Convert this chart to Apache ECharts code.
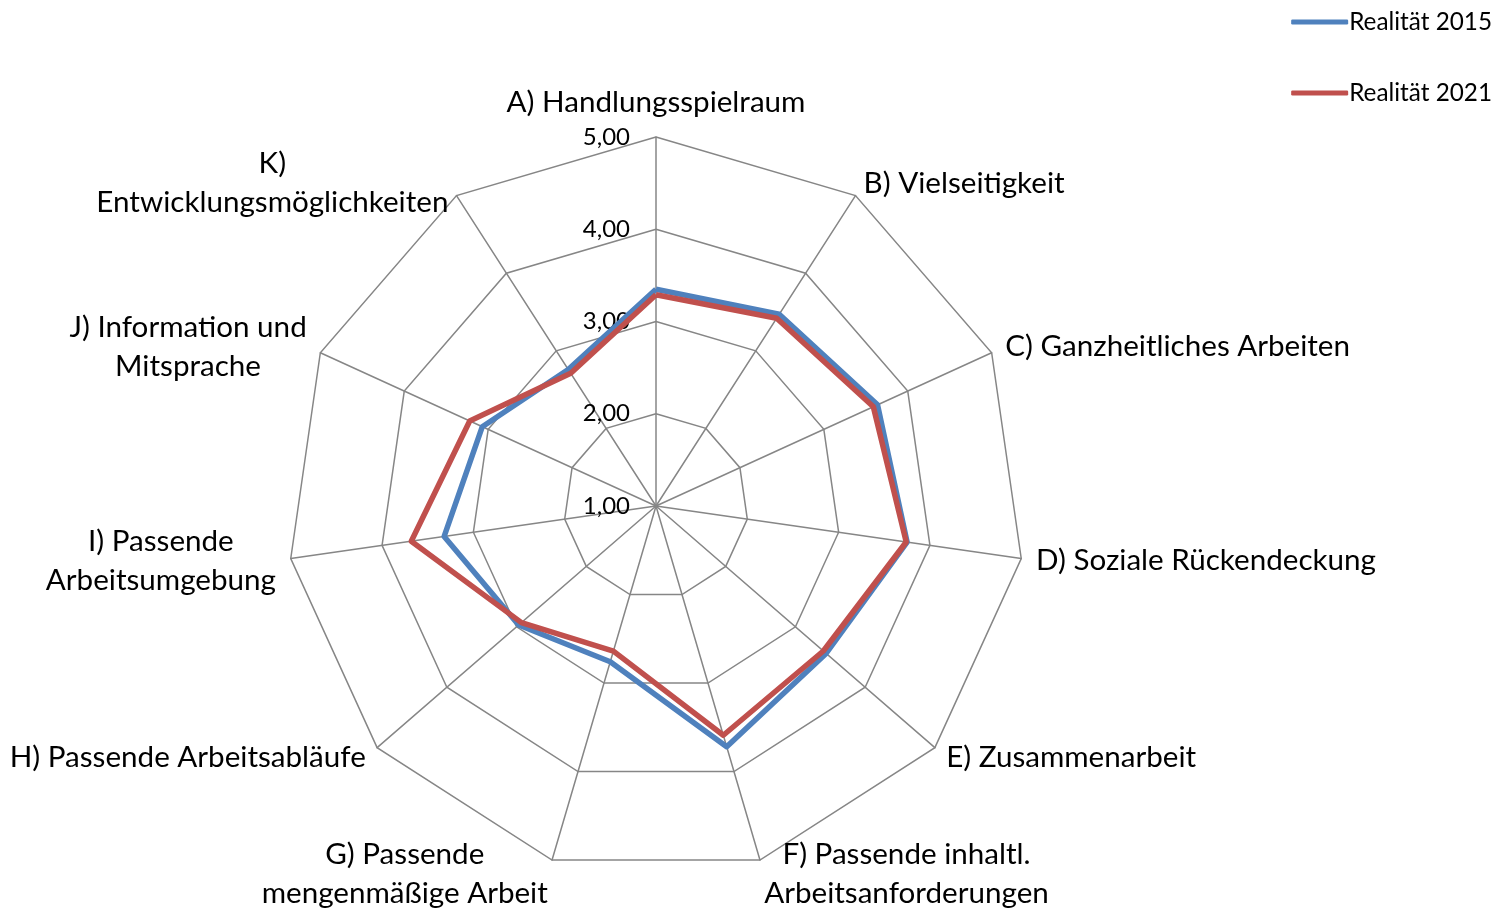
<!DOCTYPE html>
<html>
<head>
<meta charset="utf-8">
<script src="https://cdn.jsdelivr.net/npm/echarts@6/dist/echarts.min.js"></script>
<style>
html,body{margin:0;padding:0;background:#fff;}
#chart{width:1499px;height:916px;}
</style>
</head>
<body>
<div id="chart"></div>
<script>
const categories = [
  "A) Handlungsspielraum",
  "B) Vielseitigkeit",
  "C) Ganzheitliches Arbeiten",
  "D) Soziale Rückendeckung",
  "E) Zusammenarbeit",
  "F) Passende inhaltl.\nArbeitsanforderungen",
  "G) Passende\nmengenmäßige Arbeit",
  "H) Passende Arbeitsabläufe",
  "I) Passende\nArbeitsumgebung",
  "J) Information und\nMitsprache",
  "K)\nEntwicklungsmöglichkeiten"
];
const seriesNames = ["Realität 2015", "Realität 2021"];
const values2015 = [3.35, 3.47, 3.64, 3.75, 3.44, 3.72, 2.76, 2.97, 3.32, 3.07, 2.76];
const values2021 = [3.29, 3.42, 3.59, 3.74, 3.40, 3.59, 2.64, 2.93, 3.68, 3.22, 2.71];
const scaleMin = 1, scaleMax = 5, scaleSteps = 4;

// ECharts lays indicators out counter-clockwise; reorder (first stays on top) to go clockwise
function clockwise(arr) { return [arr[0]].concat(arr.slice(1).reverse()); }

const FONT = "Lato";
const chart = echarts.init(document.getElementById('chart'));
const indicator = clockwise(categories).map((c, i) => {
  const o = { name: c, min: scaleMin, max: scaleMax };
  if (i === 0) o.axisLabel = { show: true };
  return o;
});
chart.setOption({
  animation: false,
  color: ['#4F81BD', '#C0504D'],
  legend: {
    orient: 'vertical',
    right: 2,
    top: 5,
    itemWidth: 57,
    itemHeight: 5,
    itemGap: 47,
    icon: 'roundRect',
    data: seriesNames,
    textStyle: { fontFamily: FONT, fontSize: 24.3, color: '#000', padding: [0, 0, 0, -4] }
  },
  radar: {
    center: [656, 506],
    radius: 369,
    startAngle: 90,
    shape: 'polygon',
    splitNumber: scaleSteps,
    indicator: indicator,
    nameGap: 15,
    axisName: {
      color: '#000',
      fontFamily: FONT,
      fontSize: 29.6,
      lineHeight: 39,
      formatter: function (name) {
        return name.split('\n').map(s => '{c|' + s + '}').join('\n');
      },
      rich: { c: { align: 'center', fontFamily: FONT, fontSize: 29.6, lineHeight: 39, color: '#000' } }
    },
    axisLine: { show: true, lineStyle: { color: '#868686', width: 1.5 } },
    splitLine: { show: true, lineStyle: { color: '#868686', width: 1.5 } },
    splitArea: { show: false },
    axisTick: { show: false },
    axisLabel: {
      show: false,
      color: '#000',
      fontFamily: FONT,
      fontSize: 24,
      margin: 26,
      formatter: v => v.toFixed(2).replace('.', ',')
    }
  },
  series: [{
    type: 'radar',
    symbol: 'none',
    data: [
      { name: seriesNames[0], value: clockwise(values2015), lineStyle: { width: 5.5, color: '#4F81BD' }, itemStyle: { color: '#4F81BD' } },
      { name: seriesNames[1], value: clockwise(values2021), lineStyle: { width: 5.5, color: '#C0504D' }, itemStyle: { color: '#C0504D' } }
    ]
  }]
});
</script>
</body>
</html>
